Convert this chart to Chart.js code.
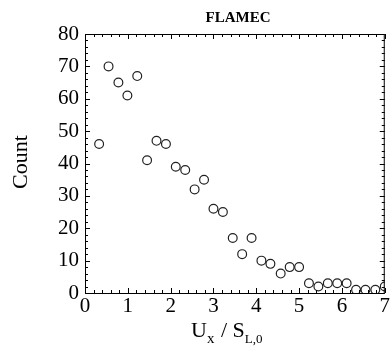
<!DOCTYPE html>
<html>
<head>
<meta charset="utf-8">
<script src="https://cdn.jsdelivr.net/npm/chart.js@4"></script>
<style>
  html, body { margin: 0; padding: 0; background: #fff; }
  #wrap { width: 391px; height: 346px; }
</style>
</head>
<body>
<div id="wrap"><canvas id="chart"></canvas></div>
<script>
// bin centres (Ux / SL,0) and counts
const binX = [0.33, 0.55, 0.78, 0.99, 1.22, 1.45, 1.67, 1.89, 2.12, 2.34, 2.56, 2.78, 3.00, 3.22, 3.45, 3.67,
  3.89, 4.12, 4.33, 4.57, 4.78, 5.00, 5.23, 5.45, 5.67, 5.89, 6.11, 6.33, 6.55, 6.78, 7.00];
const counts = [46, 70, 65, 61, 67, 41, 47, 46, 39, 38, 32, 35, 26, 25, 17, 12,
  17, 10, 9, 6, 8, 8, 3, 2, 3, 3, 3, 1, 1, 1, 2];
const xTicks = [0, 1, 2, 3, 4, 5, 6, 7];
const yTicks = [0, 10, 20, 30, 40, 50, 60, 70, 80];

const serif = "'Liberation Serif', 'DejaVu Serif', serif";

// frame, inward ticks on all four sides, and titles
const framePlugin = {
  id: 'frame',
  afterDraw(chart) {
    const { ctx, chartArea: a, scales: { x, y } } = chart;
    ctx.save();
    ctx.strokeStyle = '#000';
    ctx.lineWidth = 1;
    ctx.strokeRect(a.left + 0.5, a.top + 0.5, a.right - a.left - 1, a.bottom - a.top);

    ctx.beginPath();
    for (let v = 0; v <= 7.001; v += 0.2) {
      const px = Math.round(x.getPixelForValue(v)) + 0.5;
      const major = Math.abs(v - Math.round(v)) < 0.01;
      const len = major ? 5 : 3;
      ctx.moveTo(px, a.bottom); ctx.lineTo(px, a.bottom - len);
      ctx.moveTo(px, a.top); ctx.lineTo(px, a.top + len);
    }
    for (let v = 0; v <= 80; v += 2) {
      const py = Math.round(y.getPixelForValue(v)) + 0.5;
      const len = v % 10 === 0 ? 5 : 3;
      ctx.moveTo(a.left, py); ctx.lineTo(a.left + len, py);
      ctx.moveTo(a.right, py); ctx.lineTo(a.right - len, py);
    }
    ctx.stroke();

    ctx.fillStyle = '#000';
    // chart title
    ctx.font = 'bold 15px ' + serif;
    ctx.textAlign = 'center';
    ctx.textBaseline = 'alphabetic';
    ctx.fillText('FLAMEC', 238, 22);

    // y axis title
    ctx.save();
    ctx.translate(27, 162);
    ctx.rotate(-Math.PI / 2);
    ctx.font = '22px ' + serif;
    ctx.fillText('Count', 0, 0);
    ctx.restore();

    // x axis title with subscripts
    ctx.textAlign = 'left';
    let cx = 191;
    const base = 337;
    const parts = [['U', 22, 0], ['x', 15, 6], [' / S', 22, 0], ['L,0', 13, 6]];
    parts.forEach(([t, size, dy]) => {
      ctx.font = size + 'px ' + serif;
      ctx.fillText(t, cx, base + dy);
      cx += ctx.measureText(t).width + (dy ? 1 : 0);
    });
    ctx.restore();
  }
};

new Chart(document.getElementById('chart'), {
  type: 'scatter',
  data: {
    datasets: [{
      data: binX.map((v, i) => ({ x: v, y: counts[i] })),
      pointStyle: 'circle',
      pointRadius: 4.4,
      pointBorderWidth: 1.2,
      borderColor: '#222',
      backgroundColor: 'rgba(0,0,0,0)',
      pointBackgroundColor: 'rgba(0,0,0,0)'
    }]
  },
  options: {
    responsive: true,
    maintainAspectRatio: false,
    animation: false,
    devicePixelRatio: 1,
    layout: { padding: { top: 34, right: 3, left: 0, bottom: 0 } },
    plugins: { legend: { display: false }, tooltip: { enabled: false } },
    scales: {
      x: {
        type: 'linear',
        min: 0, max: 7,
        afterBuildTicks: s => { s.ticks = xTicks.map(v => ({ value: v })); },
        afterFit: s => { s.height = 53; },
        grid: { display: false, drawTicks: false },
        border: { display: false },
        ticks: { color: '#000', padding: 1, font: { family: serif, size: 21 } }
      },
      y: {
        type: 'linear',
        min: 0, max: 80,
        afterBuildTicks: s => { s.ticks = yTicks.map(v => ({ value: v })); },
        afterFit: s => { s.width = 85; },
        grid: { display: false, drawTicks: false },
        border: { display: false },
        ticks: { color: '#000', padding: 6, font: { family: serif, size: 21 } }
      }
    }
  },
  plugins: [framePlugin]
});
</script>
</body>
</html>
